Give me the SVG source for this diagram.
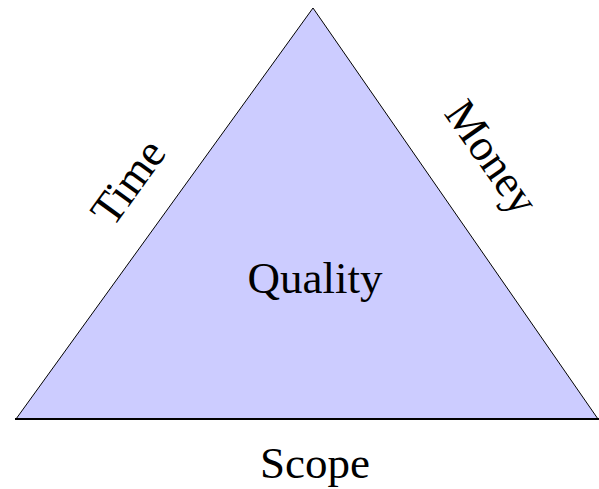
<svg xmlns="http://www.w3.org/2000/svg" width="599" height="489" viewBox="0 0 599 489">
<style>
text{font-family:"Liberation Serif","Times New Roman",serif;font-size:45px;fill:#000;text-anchor:middle}
</style>
<rect width="599" height="489" fill="#fff"/>
<g id="triangle">
<polygon points="313,8 16,419 598,419" fill="#ccccff" stroke="#000" stroke-width="1"/>
<line x1="15" y1="419" x2="599" y2="419" stroke="#000" stroke-width="2"/>
</g>
<g id="quality"><text x="315" y="293">Quality</text></g>
<g id="scope"><text x="315" y="478">Scope</text></g>
<g id="time"><text transform="translate(128,182) rotate(-54)" y="15">Time</text></g>
<g id="money"><text transform="translate(492,157) rotate(55)" y="15">Money</text></g>
<g id="connectors"></g>
</svg>
